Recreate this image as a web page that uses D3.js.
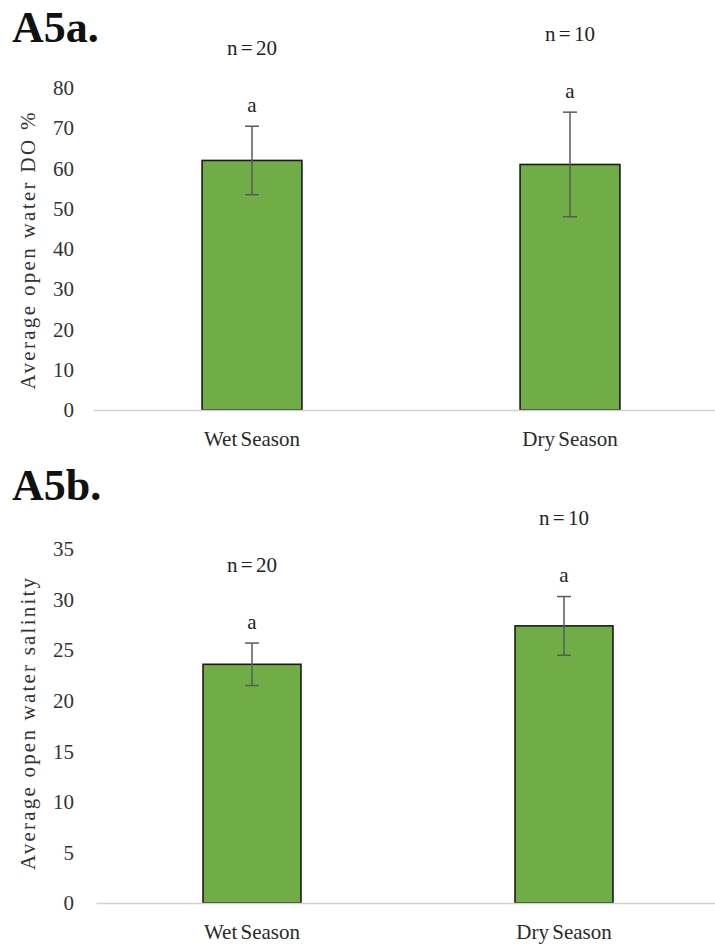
<!DOCTYPE html>
<html>
<head>
<meta charset="utf-8">
<script src="https://cdn.jsdelivr.net/npm/d3@7"></script>
<style>
  html, body { margin: 0; padding: 0; background: #fff; }
  svg { display: block; }
  text { font-family: "Liberation Serif", "Times New Roman", serif; }
</style>
</head>
<body>
<svg id="chart" width="715" height="947"></svg>
<script>
// Seasonal open-water dissolved oxygen and salinity (means ± error)
const seasons = ["Wet Season", "Dry Season"];
const sampleSizes = [20, 10];
const letters = ["a", "a"];

const doMeans = [62, 61];
const doErrors = [8.5, 13];
const doTicks = [0, 10, 20, 30, 40, 50, 60, 70, 80];

const salMeans = [23.6, 27.4];
const salErrors = [2.1, 2.9];
const salTicks = [0, 5, 10, 15, 20, 25, 30, 35];

const svg = d3.select("#chart");

function drawPanel(cfg) {
  const g = svg.append("g");
  const rows = seasons.map((s, i) => ({
    season: s, mean: cfg.means[i], err: cfg.errors[i], n: sampleSizes[i], letter: letters[i]
  }));

  const x = d3.scaleBand().domain(seasons).range(cfg.xRange).paddingInner(0.686).paddingOuter(0.343);
  const y = d3.scaleLinear().domain([0, d3.max(cfg.ticks)]).range(cfg.yRange);

  // panel heading
  g.append("text")
    .attr("x", 12).attr("y", cfg.titleY)
    .attr("font-size", 44).attr("font-weight", "bold").attr("fill", "#111")
    .text(cfg.title);

  // value axis: labels only
  const yAxis = g.append("g")
    .attr("transform", `translate(92,0)`)
    .call(d3.axisLeft(y).tickValues(cfg.ticks).tickSize(0).tickPadding(18).tickFormat(d3.format("d")));
  yAxis.select(".domain").remove();
  yAxis.selectAll("text").attr("font-size", 21).attr("fill", "#333");

  // axis title
  g.append("text")
    .attr("transform", `translate(35,${cfg.labelCenter}) rotate(-90)`)
    .attr("text-anchor", "middle")
    .attr("font-size", 21).attr("fill", "#333")
    .attr("textLength", cfg.labelLength).attr("lengthAdjust", "spacing")
    .text(cfg.yLabel);

  // bars
  g.selectAll("rect.bar").data(rows).join("rect")
    .attr("class", "bar")
    .attr("x", d => x(d.season))
    .attr("width", x.bandwidth())
    .attr("y", d => y(d.mean))
    .attr("height", d => y(0) - y(d.mean))
    .attr("fill", "#70AD47")
    .attr("stroke", "#1b1b1b").attr("stroke-width", 1.6);

  // category axis
  const xAxis = g.append("g")
    .attr("transform", `translate(0,${y(0)})`)
    .call(d3.axisBottom(x).tickSize(0).tickPadding(21));
  xAxis.select(".domain").attr("stroke", "#d0d0d0").attr("stroke-width", 1.5);
  xAxis.selectAll("text").attr("font-size", 21).attr("fill", "#2a2a2a").attr("word-spacing", -2);

  // error bars
  const cx = d => x(d.season) + x.bandwidth() / 2;
  const eb = g.selectAll("g.err").data(rows).join("g").attr("class", "err")
    .attr("stroke", "#5a5a5a").attr("stroke-width", 1.5);
  eb.append("line")
    .attr("x1", cx).attr("x2", cx)
    .attr("y1", d => y(d.mean + d.err)).attr("y2", d => y(d.mean - d.err));
  eb.append("line")
    .attr("x1", d => cx(d) - 7).attr("x2", d => cx(d) + 7)
    .attr("y1", d => y(d.mean + d.err)).attr("y2", d => y(d.mean + d.err));
  eb.append("line")
    .attr("x1", d => cx(d) - 7).attr("x2", d => cx(d) + 7)
    .attr("y1", d => y(d.mean - d.err)).attr("y2", d => y(d.mean - d.err));

  // significance letters and sample sizes
  g.selectAll("text.letter").data(rows).join("text")
    .attr("class", "letter")
    .attr("x", cx).attr("y", d => y(d.mean + d.err) - 21)
    .attr("dy", "0.32em").attr("text-anchor", "middle")
    .attr("font-size", 21).attr("fill", "#222")
    .text(d => d.letter);
  g.selectAll("text.nlab").data(rows).join("text")
    .attr("class", "nlab")
    .attr("x", cx).attr("y", d => y(d.mean + d.err) - 78)
    .attr("dy", "0.32em").attr("text-anchor", "middle")
    .attr("font-size", 21).attr("fill", "#222").attr("word-spacing", -2)
    .text(d => `n = ${d.n}`);
}

drawPanel({
  title: "A5a.", titleY: 42,
  means: doMeans, errors: doErrors, ticks: doTicks,
  xRange: [93, 729], yRange: [410, 88],
  yLabel: "Average open water DO %", labelCenter: 251, labelLength: 277
});

drawPanel({
  title: "A5b.", titleY: 500,
  means: salMeans, errors: salErrors, ticks: salTicks,
  xRange: [96, 720], yRange: [903, 549],
  yLabel: "Average open water salinity", labelCenter: 724, labelLength: 292
});
</script>
</body>
</html>
